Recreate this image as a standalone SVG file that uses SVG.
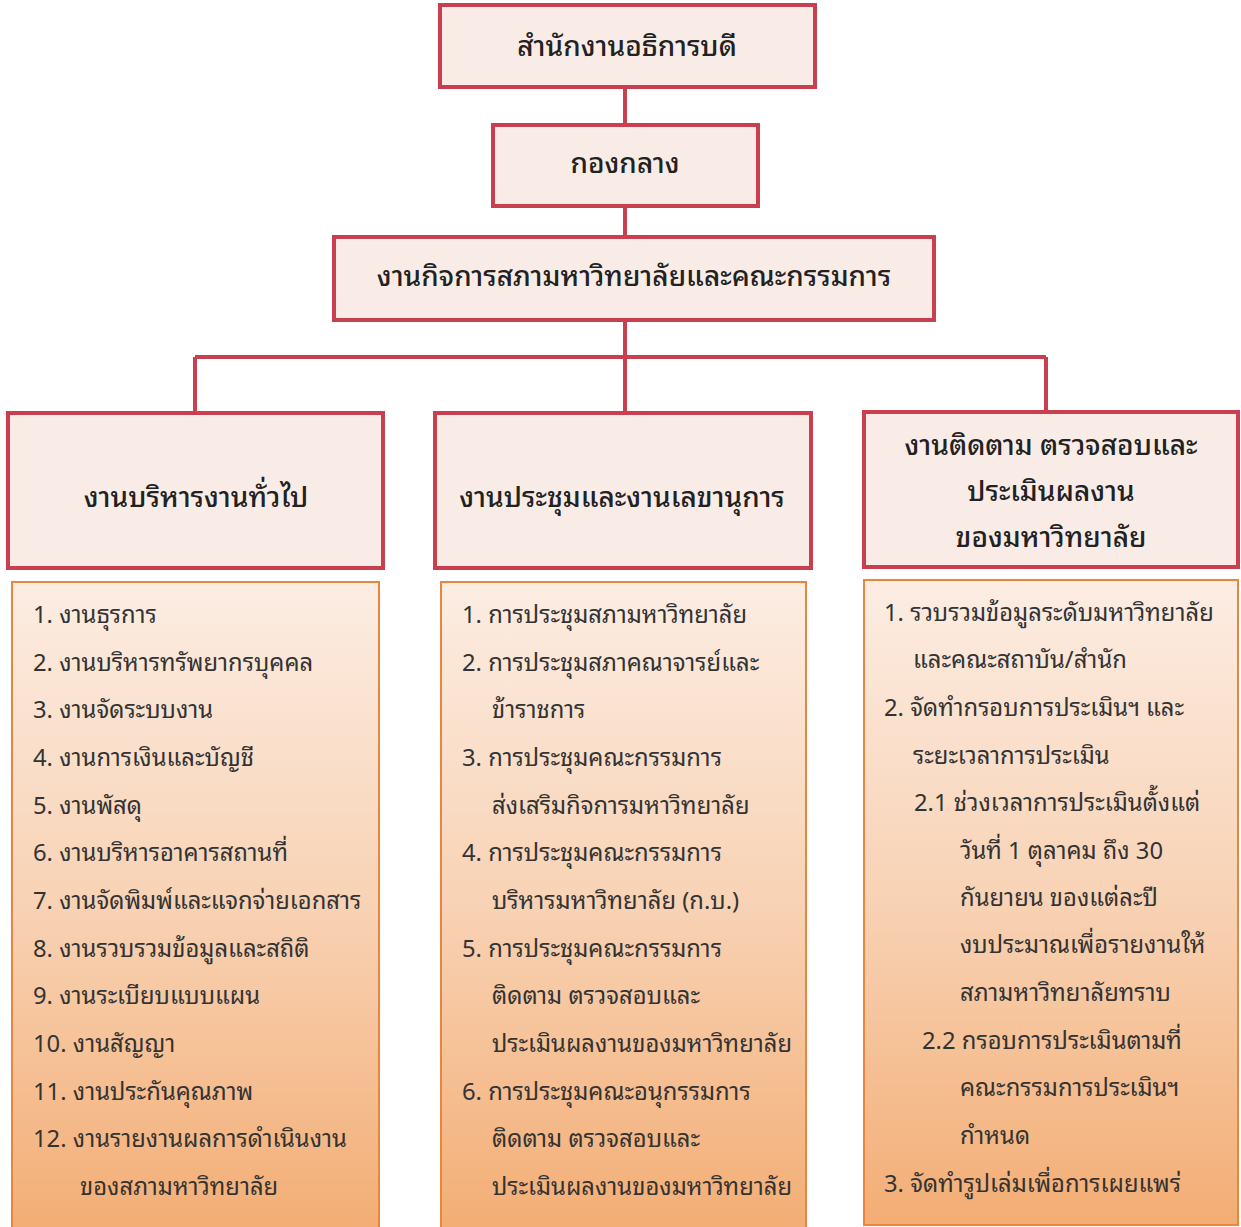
<svg xmlns="http://www.w3.org/2000/svg" width="1241" height="1227" viewBox="0 0 1241 1227">
<style>
.hd{fill:#f9ece7;stroke:#c93f4f;stroke-width:4}
.ct{fill:url(#g);stroke:#e8853f;stroke-width:2}
.cn{stroke:#c93f4f;stroke-width:4;fill:none}
.t{font-family:"Noto Sans Thai Looped","Noto Sans Thai","Noto Sans","DejaVu Sans",sans-serif;font-size:28px;fill:#222;text-anchor:middle;font-weight:500}
.l{font-family:"Noto Sans Thai Looped","Noto Sans Thai","Noto Sans","DejaVu Sans",sans-serif;font-size:23.8px;fill:#333}
</style>
<defs>
<linearGradient id="g" x1="0" y1="0" x2="0" y2="1">
<stop offset="0" stop-color="#fcede3"/>
<stop offset="0.5" stop-color="#f8d2b4"/>
<stop offset="1" stop-color="#f3ad74"/>
</linearGradient>
</defs>
<rect width="1241" height="1227" fill="#fff"/>
<g id="connectors">
<path class="cn" d="M625 87V125M625 206V237M625 320V413M195 357H1046M195 357V413M1046 357V412"/>
</g>
<g id="n1"><rect class="hd" x="440" y="5" width="375" height="82"/><text class="t" x="627" y="56">สำนักงานอธิการบดี</text></g>
<g id="n2"><rect class="hd" x="493" y="125" width="265" height="81"/><text class="t" x="625" y="173">กองกลาง</text></g>
<g id="n3"><rect class="hd" x="334" y="237" width="600" height="83"/><text class="t" x="634" y="286">งานกิจการสภามหาวิทยาลัยและคณะกรรมการ</text></g>
<g id="n4"><rect class="hd" x="8" y="413" width="375" height="155"/><text class="t" x="196" y="507">งานบริหารงานทั่วไป</text></g>
<g id="n5"><rect class="hd" x="435" y="413" width="376" height="155"/><text class="t" x="622" y="507">งานประชุมและงานเลขานุการ</text></g>
<g id="n6"><rect class="hd" x="864" y="412" width="374" height="155"/><text class="t" x="1051" y="455">งานติดตาม ตรวจสอบและ</text><text class="t" x="1051" y="501">ประเมินผลงาน</text><text class="t" x="1051" y="547">ของมหาวิทยาลัย</text></g>
<g id="n7"><rect class="ct" x="12" y="582" width="367" height="650"/>
<text class="l" x="33" y="623">1. งานธุรการ</text>
<text class="l" x="33" y="671">2. งานบริหารทรัพยากรบุคคล</text>
<text class="l" x="33" y="718">3. งานจัดระบบงาน</text>
<text class="l" x="33" y="766">4. งานการเงินและบัญชี</text>
<text class="l" x="33" y="814">5. งานพัสดุ</text>
<text class="l" x="33" y="861">6. งานบริหารอาคารสถานที่</text>
<text class="l" x="33" y="909">7. งานจัดพิมพ์และแจกจ่ายเอกสาร</text>
<text class="l" x="33" y="957">8. งานรวบรวมข้อมูลและสถิติ</text>
<text class="l" x="33" y="1004">9. งานระเบียบแบบแผน</text>
<text class="l" x="33" y="1052">10. งานสัญญา</text>
<text class="l" x="33" y="1100">11. งานประกันคุณภาพ</text>
<text class="l" x="33" y="1147">12. งานรายงานผลการดำเนินงาน</text>
<text class="l" x="80" y="1195">ของสภามหาวิทยาลัย</text>
</g>
<g id="n8"><rect class="ct" x="441" y="582" width="365" height="650"/>
<text class="l" x="462" y="623">1. การประชุมสภามหาวิทยาลัย</text>
<text class="l" x="462" y="671">2. การประชุมสภาคณาจารย์และ</text>
<text class="l" x="492" y="718">ข้าราชการ</text>
<text class="l" x="462" y="766">3. การประชุมคณะกรรมการ</text>
<text class="l" x="492" y="814">ส่งเสริมกิจการมหาวิทยาลัย</text>
<text class="l" x="462" y="861">4. การประชุมคณะกรรมการ</text>
<text class="l" x="492" y="909">บริหารมหาวิทยาลัย (ก.บ.)</text>
<text class="l" x="462" y="957">5. การประชุมคณะกรรมการ</text>
<text class="l" x="492" y="1004">ติดตาม ตรวจสอบและ</text>
<text class="l" x="492" y="1052">ประเมินผลงานของมหาวิทยาลัย</text>
<text class="l" x="462" y="1100">6. การประชุมคณะอนุกรรมการ</text>
<text class="l" x="492" y="1147">ติดตาม ตรวจสอบและ</text>
<text class="l" x="492" y="1195">ประเมินผลงานของมหาวิทยาลัย</text>
</g>
<g id="n9"><rect class="ct" x="864" y="580" width="374" height="645"/>
<text class="l" x="884" y="621">1. รวบรวมข้อมูลระดับมหาวิทยาลัย</text>
<text class="l" x="913" y="668">และคณะสถาบัน/สำนัก</text>
<text class="l" x="884" y="716">2. จัดทำกรอบการประเมินฯ และ</text>
<text class="l" x="913" y="764">ระยะเวลาการประเมิน</text>
<text class="l" x="914" y="811">2.1 ช่วงเวลาการประเมินตั้งแต่</text>
<text class="l" x="960" y="859">วันที่ 1 ตุลาคม ถึง 30</text>
<text class="l" x="960" y="906">กันยายน ของแต่ละปี</text>
<text class="l" x="960" y="953">งบประมาณเพื่อรายงานให้</text>
<text class="l" x="960" y="1001">สภามหาวิทยาลัยทราบ</text>
<text class="l" x="922" y="1049">2.2 กรอบการประเมินตามที่</text>
<text class="l" x="960" y="1096">คณะกรรมการประเมินฯ</text>
<text class="l" x="960" y="1144">กำหนด</text>
<text class="l" x="884" y="1192">3. จัดทำรูปเล่มเพื่อการเผยแพร่</text>
</g>
</svg>
